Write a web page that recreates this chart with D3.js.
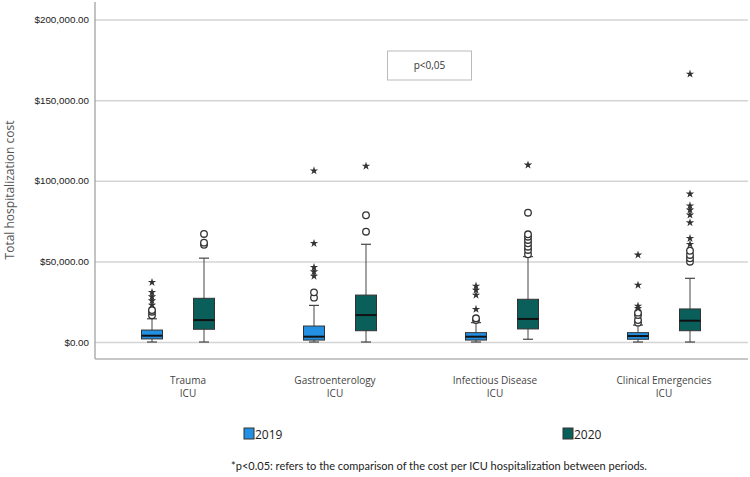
<!DOCTYPE html>
<html>
<head>
<meta charset="utf-8">
<script src="https://cdn.jsdelivr.net/npm/d3@7"></script>
<style>
  body { margin: 0; background: #fff; }
  svg { display: block; }
</style>
</head>
<body>
<script>
// categories and periods
const categories = ["Trauma", "Gastroenterology", "Infectious Disease", "Clinical Emergencies"];
const years = ["2019", "2020"];
const yTicks = [0, 50000, 100000, 150000, 200000];

// box statistics per category
const q1_2019 = [1900, 1200, 1200, 1700];
const med_2019 = [3900, 3300, 3300, 3700];
const q3_2019 = [7400, 9900, 5800, 5800];
const lo_2019 = [0, 0, 0, 0];
const hi_2019 = [14400, 22700, 12000, 10500];
const circles_2019 = [[16600, 18800, 19800], [27500, 30800], [13600, 14700], [12000, 13600, 16700, 18200]];
const stars_2019 = [[22900, 25600, 28100, 30800, 37000], [40900, 43600, 46300, 61200, 106200], [20300, 29100, 32200, 34700], [20900, 22300, 35300, 54000]];

const q1_2020 = [7900, 7000, 8100, 7000];
const med_2020 = [13600, 16700, 14300, 13200];
const q3_2020 = [27100, 29100, 26500, 20500];
const lo_2020 = [0, 0, 1700, 0];
const hi_2020 = [52000, 60600, 52900, 39500];
const circles_2020 = [[60300, 61600, 67000], [68400, 78600], [54400, 57100, 59100, 61200, 63300, 65300, 66800, 80200], [49800, 51900, 54000, 56600]];
const stars_2020 = [[], [109100], [109800], [60600, 64300, 74000, 78800, 81900, 84500, 91800, 166200]];

const colors = { "2019": "#2390e3", "2020": "#0b5f5b" };

const width = 750, height = 477;
const axisX = 95, plotRight = 748, axisBottomY = 359;
// small nudges of the category labels as in the reference
const labelShift = [10, -5, -7, 0];

const svg = d3.select("body").append("svg")
  .attr("width", width)
  .attr("height", height)
  .style("font-family", "'Open Sans', sans-serif");

const y = d3.scaleLinear().domain([0, 200000]).range([342, 19.5]);
const x = d3.scaleBand().domain(categories).range([97, 745]);
const xSub = d3.scaleBand().domain(years).range([-52, 52]);

// y axis with grid lines
const yAxis = svg.append("g")
  .attr("transform", `translate(${axisX},0)`)
  .call(d3.axisLeft(y)
    .tickValues(yTicks)
    .tickSize(-(plotRight - axisX))
    .tickPadding(6)
    .tickFormat(d3.format("$,.2f")));
yAxis.select(".domain").remove();
yAxis.selectAll(".tick line").attr("stroke", "#d4d4d4").attr("stroke-width", 1.5);
yAxis.selectAll(".tick text")
  .attr("fill", "#1a1a1a")
  .style("font-family", "'Liberation Sans', Arial, sans-serif")
  .style("font-size", "9.8px");

// frame lines
svg.append("line")
  .attr("x1", axisX).attr("x2", axisX)
  .attr("y1", 2).attr("y2", axisBottomY)
  .attr("stroke", "#9a9a9a").attr("stroke-width", 1.2);
svg.append("line")
  .attr("x1", axisX).attr("x2", plotRight)
  .attr("y1", axisBottomY).attr("y2", axisBottomY)
  .attr("stroke", "#b5b5b5").attr("stroke-width", 1.5);

// y axis title
svg.append("text")
  .attr("transform", "rotate(-90)")
  .attr("x", -190)
  .attr("y", 14)
  .attr("text-anchor", "middle")
  .attr("fill", "#555")
  .style("font-size", "12px")
  .text("Total hospitalization cost");

// category labels
const catLabels = svg.selectAll(".cat")
  .data(categories)
  .enter().append("text")
  .attr("class", "cat")
  .attr("text-anchor", "middle")
  .attr("fill", "#444")
  .style("font-size", "10px");
catLabels.append("tspan")
  .attr("x", (d, i) => x(d) + x.bandwidth() / 2 + labelShift[i])
  .attr("y", 384)
  .text(d => d);
catLabels.append("tspan")
  .attr("x", (d, i) => x(d) + x.bandwidth() / 2 + labelShift[i])
  .attr("y", 397)
  .text("ICU");

// build boxes
const series = {
  "2019": { q1: q1_2019, med: med_2019, q3: q3_2019, lo: lo_2019, hi: hi_2019, circ: circles_2019, star: stars_2019 },
  "2020": { q1: q1_2020, med: med_2020, q3: q3_2020, lo: lo_2020, hi: hi_2020, circ: circles_2020, star: stars_2020 }
};
const boxW = 21, capW = 10;
const star = d3.symbol().type(d3.symbolStar).size(22);

years.forEach(function (yr) {
  const s = series[yr];
  const boxes = categories.map((c, i) => ({
    cat: c, cx: x(c) + x.bandwidth() / 2 + xSub(yr) + xSub.bandwidth() / 2,
    q1: s.q1[i], med: s.med[i], q3: s.q3[i], lo: s.lo[i], hi: s.hi[i],
    circ: s.circ[i], star: s.star[i]
  }));

  const g = svg.append("g").attr("class", "box-" + yr);

  // whiskers
  g.selectAll(".whisk").data(boxes).enter().append("line")
    .attr("x1", d => d.cx).attr("x2", d => d.cx)
    .attr("y1", d => y(d.hi)).attr("y2", d => y(d.lo))
    .attr("stroke", "#444").attr("stroke-width", 1);
  g.selectAll(".capHi").data(boxes).enter().append("line")
    .attr("x1", d => d.cx - capW / 2).attr("x2", d => d.cx + capW / 2)
    .attr("y1", d => y(d.hi)).attr("y2", d => y(d.hi))
    .attr("stroke", "#444").attr("stroke-width", 1.2);
  g.selectAll(".capLo").data(boxes).enter().append("line")
    .attr("x1", d => d.cx - capW / 2).attr("x2", d => d.cx + capW / 2)
    .attr("y1", d => y(d.lo)).attr("y2", d => y(d.lo))
    .attr("stroke", "#444").attr("stroke-width", 1.2);

  // box
  g.selectAll(".rect").data(boxes).enter().append("rect")
    .attr("x", d => d.cx - boxW / 2)
    .attr("y", d => y(d.q3))
    .attr("width", boxW)
    .attr("height", d => y(d.q1) - y(d.q3))
    .attr("fill", colors[yr])
    .attr("stroke", "#333").attr("stroke-width", 1);
  g.selectAll(".med").data(boxes).enter().append("line")
    .attr("x1", d => d.cx - boxW / 2).attr("x2", d => d.cx + boxW / 2)
    .attr("y1", d => y(d.med)).attr("y2", d => y(d.med))
    .attr("stroke", "#111").attr("stroke-width", 2);

  // outliers
  boxes.forEach(function (b) {
    g.selectAll(null).data(b.circ).enter().append("circle")
      .attr("cx", b.cx).attr("cy", d => y(d))
      .attr("r", 3.3)
      .attr("fill", "#fff").attr("stroke", "#333").attr("stroke-width", 1.3);
    g.selectAll(null).data(b.star).enter().append("path")
      .attr("d", star)
      .attr("transform", d => `translate(${b.cx},${y(d)})`)
      .attr("fill", "#333");
  });
});

// p value box
svg.append("rect")
  .attr("x", 387.5).attr("y", 51)
  .attr("width", 84).attr("height", 29)
  .attr("fill", "#fff").attr("stroke", "#bbb").attr("stroke-width", 1);
svg.append("text")
  .attr("x", 429.5).attr("y", 69)
  .attr("text-anchor", "middle")
  .attr("fill", "#333")
  .style("font-size", "10px")
  .text("p<0,05");

// legend
const legX = { "2019": 244, "2020": 563 };
years.forEach(function (yr) {
  svg.append("rect")
    .attr("x", legX[yr]).attr("y", 428)
    .attr("width", 10).attr("height", 11)
    .attr("fill", colors[yr]).attr("stroke", "#333").attr("stroke-width", 1);
  svg.append("text")
    .attr("x", legX[yr] + 11).attr("y", 439)
    .attr("fill", "#222")
    .style("font-size", "12px")
    .text(yr);
});

// footnote
svg.append("text")
  .attr("x", 439).attr("y", 470)
  .attr("text-anchor", "middle")
  .attr("fill", "#222")
  .style("font-family", "Lato, sans-serif")
  .style("font-size", "11px")
  .text("*p<0.05: refers to the comparison of the cost per ICU hospitalization between periods.");
</script>
</body>
</html>
